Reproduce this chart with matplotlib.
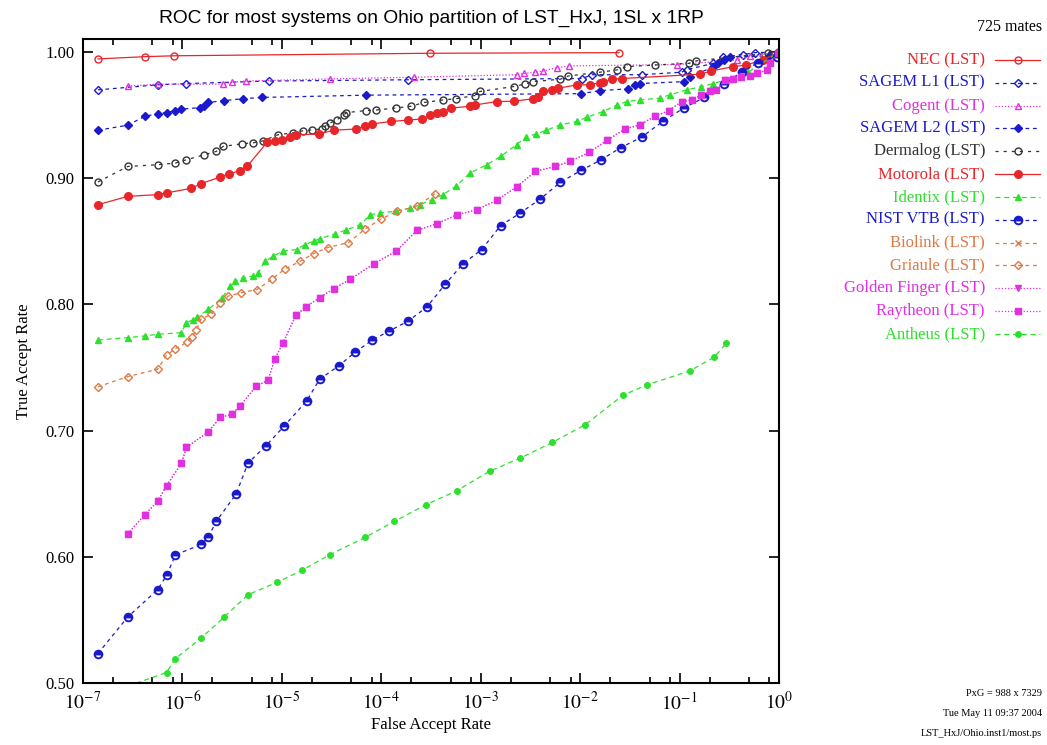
import numpy as np
import matplotlib
matplotlib.use("Agg")
import matplotlib.pyplot as plt
from matplotlib.lines import Line2D
from matplotlib.ticker import FixedLocator, LogLocator, NullFormatter

plt.rcParams["font.family"] = ["Liberation Serif", "DejaVu Serif"]
plt.rcParams["mathtext.fontset"] = "stix"

# log10(FAR) and TAR
nec_x = [-6.85, -6.38, -6.08, -3.51, -1.61]
nec_y = [0.9945, 0.9963, 0.997, 0.999, 0.9995]

sagem1_x = [-6.85, -6.25, -5.96, -5.13, -3.73, -1.98, -1.88, -1.38, -0.98, -0.93, -0.66, -0.56, -0.36, -0.24, 0.0]
sagem1_y = [0.970, 0.974, 0.975, 0.977, 0.978, 0.979, 0.982, 0.982, 0.984, 0.986, 0.991, 0.996, 0.998, 0.9995, 1.0]

cogent_x = [-6.55, -6.25, -5.59, -5.50, -5.36, -4.52, -3.67, -2.64, -2.56, -2.45, -2.37, -2.23, -2.11, -1.03, -0.42, -0.29, 0.0]
cogent_y = [0.973, 0.9745, 0.9745, 0.976, 0.977, 0.9787, 0.980, 0.982, 0.983, 0.984, 0.985, 0.9876, 0.989, 0.990, 0.9937, 0.997, 1.0]

sagem2_x = [-6.85, -6.55, -6.38, -6.25, -6.16, -6.07, -6.01, -5.82, -5.78, -5.74, -5.58, -5.39, -5.20, -4.15,
            -1.99, -1.80, -1.52, -1.45, -1.40, -0.96, -0.90, -0.66, -0.61, -0.55, -0.49, -0.10, 0.0]
sagem2_y = [0.938, 0.942, 0.949, 0.951, 0.952, 0.9536, 0.9547, 0.956, 0.957, 0.960, 0.9615, 0.963, 0.964, 0.9658,
            0.967, 0.9694, 0.9708, 0.974, 0.975, 0.9765, 0.9805, 0.988, 0.991, 0.994, 0.996, 0.997, 1.0]

derma_x = [-6.85, -6.55, -6.25, -6.07, -5.96, -5.78, -5.66, -5.59, -5.40, -5.29, -5.19, -5.04, -4.89, -4.79, -4.70,
           -4.60, -4.57, -4.52, -4.45, -4.38, -4.35, -4.15, -4.05, -3.85, -3.70, -3.57, -3.38, -3.25, -3.06, -3.01,
           -2.67, -2.55, -2.47, -2.20, -2.12, -1.80, -1.63, -1.53, -1.25, -0.91, -0.83, -0.11, 0.0]
derma_y = [0.897, 0.9093, 0.9107, 0.912, 0.9146, 0.9186, 0.9212, 0.9252, 0.9273, 0.928, 0.9296, 0.9344, 0.936, 0.9375,
           0.9383, 0.939, 0.941, 0.9436, 0.946, 0.950, 0.952, 0.9536, 0.954, 0.9557, 0.957, 0.960, 0.962, 0.963,
           0.9655, 0.9687, 0.9726, 0.9747, 0.9766, 0.9784, 0.981, 0.984, 0.9858, 0.9884, 0.9897, 0.991, 0.993,
           0.999, 1.0]

moto_x = [-6.85, -6.55, -6.25, -6.16, -5.91, -5.81, -5.62, -5.53, -5.42, -5.35, -5.15, -5.07, -5.00, -4.92, -4.86,
          -4.63, -4.48, -4.25, -4.16, -4.09, -3.90, -3.73, -3.59, -3.51, -3.44, -3.38, -3.30, -3.11, -3.06, -2.84,
          -2.67, -2.47, -2.42, -2.37, -2.28, -2.22, -2.03, -1.90, -1.80, -1.77, -1.68, -1.58, -0.79, -0.68, -0.46,
          -0.33, -0.16, 0.0]
moto_y = [0.879, 0.8856, 0.887, 0.8883, 0.892, 0.8957, 0.901, 0.9035, 0.906, 0.9093, 0.9283, 0.9296, 0.930, 0.9326,
          0.9344, 0.935, 0.938, 0.939, 0.9415, 0.943, 0.945, 0.946, 0.947, 0.950, 0.9516, 0.9528, 0.9555, 0.957,
          0.958, 0.9607, 0.961, 0.963, 0.9647, 0.9687, 0.970, 0.9713, 0.974, 0.974, 0.9758, 0.9765, 0.9784, 0.979,
          0.9824, 0.985, 0.9884, 0.9897, 0.9937, 1.0]

identix_x = [-6.85, -6.55, -6.38, -6.25, -6.01, -5.96, -5.89, -5.85, -5.74, -5.60, -5.52, -5.47, -5.39, -5.29, -5.24,
             -5.17, -5.09, -4.99, -4.85, -4.77, -4.68, -4.62, -4.47, -4.35, -4.21, -4.11, -4.01, -3.85, -3.71, -3.61,
             -3.49, -3.38, -3.25, -3.11, -2.94, -2.80, -2.64, -2.54, -2.44, -2.34, -2.20, -2.03, -1.93, -1.77, -1.63,
             -1.53, -1.40, -1.20, -1.10, -0.93, -0.78, -0.66, -0.49, -0.31, 0.0]
identix_y = [0.7718, 0.7737, 0.775, 0.7763, 0.7776, 0.7855, 0.788, 0.790, 0.796, 0.8053, 0.8145, 0.8185, 0.821,
             0.8224, 0.825, 0.834, 0.838, 0.8422, 0.8435, 0.8474, 0.85, 0.852, 0.8559, 0.859, 0.8632, 0.871, 0.8725,
             0.8738, 0.8764, 0.879, 0.883, 0.887, 0.8935, 0.904, 0.9107, 0.9172, 0.9265, 0.933, 0.935, 0.938,
             0.9423, 0.945, 0.9484, 0.9528, 0.958, 0.9607, 0.962, 0.9634, 0.966, 0.970, 0.9726, 0.975, 0.979, 0.984,
             1.0]

nist_x = [-6.85, -6.55, -6.25, -6.16, -6.07, -5.81, -5.74, -5.66, -5.46, -5.34, -5.16, -4.98, -4.75, -4.62, -4.43,
          -4.26, -4.09, -3.92, -3.73, -3.54, -3.36, -3.18, -2.99, -2.80, -2.60, -2.40, -2.20, -1.99, -1.79, -1.59,
          -1.38, -1.17, -0.96, -0.75, -0.55, -0.37, -0.21, -0.02]
nist_y = [0.5233, 0.5523, 0.5739, 0.5852, 0.6016, 0.6098, 0.6155, 0.628, 0.6498, 0.6743, 0.688, 0.7033, 0.7236,
          0.7407, 0.7512, 0.7623, 0.7718, 0.7789, 0.7868, 0.798, 0.8158, 0.832, 0.8435, 0.8625, 0.8725, 0.8836,
          0.8967, 0.9062, 0.9146, 0.9243, 0.9326, 0.945, 0.9555, 0.964, 0.9747, 0.9845, 0.9916, 0.9963]

biolink_x = []
biolink_y = []

griaule_x = [-6.85, -6.55, -6.25, -6.16, -6.07, -5.95, -5.90, -5.86, -5.81, -5.71, -5.62, -5.54, -5.41, -5.25, -5.10,
             -4.97, -4.82, -4.68, -4.54, -4.33, -4.16, -4.00, -3.84, -3.64, -3.46]
griaule_y = [0.7347, 0.7428, 0.7486, 0.7597, 0.765, 0.770, 0.7744, 0.7797, 0.7887, 0.792, 0.8008, 0.8066, 0.8092,
             0.8118, 0.820, 0.828, 0.834, 0.8403, 0.845, 0.849, 0.860, 0.8677, 0.8738, 0.8777, 0.8877]

ray_x = [-6.55, -6.38, -6.25, -6.16, -6.01, -5.96, -5.74, -5.62, -5.50, -5.42, -5.26, -5.14, -5.07, -4.99, -4.86,
         -4.76, -4.62, -4.48, -4.31, -4.07, -3.85, -3.64, -3.44, -3.24, -3.04, -2.84, -2.64, -2.45, -2.25, -2.10,
         -1.91, -1.73, -1.55, -1.40, -1.25, -1.11, -0.98, -0.88, -0.78, -0.69, -0.63, -0.54, -0.46, -0.38, -0.29,
         -0.22, -0.12, -0.09, -0.01]
ray_y = [0.6182, 0.6332, 0.644, 0.6564, 0.674, 0.6867, 0.699, 0.7104, 0.713, 0.7196, 0.735, 0.740, 0.757, 0.7692,
         0.7913, 0.798, 0.8053, 0.8124, 0.820, 0.8324, 0.8422, 0.8587, 0.864, 0.871, 0.875, 0.8825, 0.893, 0.9054,
         0.9093, 0.9133, 0.9204, 0.930, 0.9389, 0.9423, 0.949, 0.9534, 0.9607, 0.962, 0.966, 0.9687, 0.970, 0.9779,
         0.9784, 0.9805, 0.981, 0.983, 0.9858, 0.991, 0.9995]

# Golden Finger sits under Raytheon in the picture
golden_x = list(ray_x)
golden_y = list(ray_y)

antheus_x = [-6.55, -6.16, -6.07, -5.81, -5.58, -5.34, -5.05, -4.80, -4.52, -4.16, -3.87, -3.55, -3.24, -2.91,
             -2.60, -2.28, -1.95, -1.57, -1.33, -0.90, -0.65, -0.53]
antheus_y = [0.4975, 0.5083, 0.5194, 0.5357, 0.5523, 0.570, 0.5797, 0.5892, 0.6016, 0.6155, 0.628, 0.6413, 0.6524,
             0.6678, 0.6783, 0.6906, 0.7046, 0.728, 0.7362, 0.7472, 0.7583, 0.7692]

RED = "#e8262a"
BLUE = "#1a1acc"
MAG = "#e030e0"
GREEN = "#2ee02e"
ORANGE = "#e07844"
GREY = "#333333"

# name, x, y, colour, linestyle, marker, marker kwargs
series = [
    ("NEC (LST)", nec_x, nec_y, RED, "-", "o", dict(ms=5, mfc="none")),
    ("SAGEM L1 (LST)", sagem1_x, sagem1_y, BLUE, (0, (3, 3)), "D", dict(ms=3.8, mfc="none")),
    ("Cogent (LST)", cogent_x, cogent_y, MAG, (0, (1, 1.5)), "^", dict(ms=5, mfc="none")),
    ("SAGEM L2 (LST)", sagem2_x, sagem2_y, BLUE, (0, (3, 3)), "D", dict(ms=3.8)),
    ("Dermalog (LST)", derma_x, derma_y, GREY, (0, (2.5, 4)), "o", dict(ms=5, mfc="none")),
    ("Motorola (LST)", moto_x, moto_y, RED, "-", "o", dict(ms=5.5, mfc=RED)),
    ("Identix (LST)", identix_x, identix_y, GREEN, (0, (4, 3)), "^", dict(ms=4.2)),
    ("NIST VTB (LST)", nist_x, nist_y, BLUE, (0, (3, 3)), "o", dict(ms=5.5, fillstyle="top", mfc=BLUE, mfcalt="white", mew=1.4)),
    ("Biolink (LST)", biolink_x, biolink_y, ORANGE, (0, (3, 3)), "x", dict(ms=5)),
    ("Griaule (LST)", griaule_x, griaule_y, ORANGE, (0, (3, 3)), "D", dict(ms=4.2, mfc="none")),
    ("Golden Finger (LST)", golden_x, golden_y, MAG, (0, (1, 1.5)), "v", dict(ms=4.5)),
    ("Raytheon (LST)", ray_x, ray_y, MAG, (0, (1, 1.5)), "s", dict(ms=5)),
    ("Antheus (LST)", antheus_x, antheus_y, GREEN, (0, (4, 3)), "o", dict(ms=4)),
]

fig = plt.figure(figsize=(10.47, 7.45), dpi=100)
ax = fig.add_axes([83 / 1047, 1 - 683 / 745, (779 - 83) / 1047, (683 - 39) / 745])

for name, xs, ys, col, ls, mk, kw in series:
    ax.plot(10 ** np.array(xs, dtype=float), ys, color=col, linestyle=ls, linewidth=0.9,
            marker=mk, mec=col, **kw)

ax.set_xscale("log")
ax.set_xlim(1e-7, 1.0)
ax.set_ylim(0.5, 1.0103)
ax.set_yticks([0.5, 0.6, 0.7, 0.8, 0.9, 1.0])
ax.set_yticklabels(["%.2f" % v for v in [0.5, 0.6, 0.7, 0.8, 0.9, 1.0]], fontsize=12)
decades = list(range(-7, 1))
ax.xaxis.set_major_locator(FixedLocator([10.0 ** d for d in decades]))
ax.set_xticklabels(["$10^{%d}$" % d for d in decades], fontsize=14)
ax.xaxis.set_minor_locator(LogLocator(base=10, subs=[2, 5, 8]))
ax.xaxis.set_minor_formatter(NullFormatter())
ax.tick_params(which="both", direction="in", top=True, right=True, width=1.2)
ax.tick_params(which="major", length=7, pad=6)
ax.tick_params(which="minor", length=4)
for sp in ax.spines.values():
    sp.set_linewidth(1.5)

ax.set_xlabel("False Accept Rate", fontsize=12, labelpad=2)
ax.set_ylabel("True Accept Rate", fontsize=12, labelpad=10)
ax.set_title("ROC for most systems on Ohio partition of LST_HxJ, 1SL x 1RP",
             fontsize=13.8, family="Liberation Sans", pad=12)

# legend block on the right
fig.text(1042 / 1047, 1 - 27 / 745, "725 mates", ha="right", va="center", fontsize=11.5)
for i, (name, xs, ys, col, ls, mk, kw) in enumerate(series):
    yy = 1 - (60 + i * 22.83) / 745
    fig.text(985 / 1047, yy, name, ha="right", va="center", fontsize=12, color=col)
    fig.add_artist(Line2D([995 / 1047, 1040 / 1047], [yy, yy], transform=fig.transFigure,
                          color=col, linestyle=ls, linewidth=0.9))
    fig.add_artist(Line2D([1017.5 / 1047], [yy], transform=fig.transFigure, color=col,
                          marker=mk, mec=col, linestyle="none", **kw))

fig.text(1042 / 1047, 1 - 693 / 745, "PxG = 988 x 7329", ha="right", va="center", fontsize=7.5)
fig.text(1042 / 1047, 1 - 714 / 745, "Tue May 11 09:37 2004", ha="right", va="center", fontsize=7.5)
fig.text(1042 / 1047, 1 - 733 / 745, "LST_HxJ/Ohio.inst1/most.ps", ha="right", va="center", fontsize=7.5)

fig.savefig("out.png", dpi=100)
